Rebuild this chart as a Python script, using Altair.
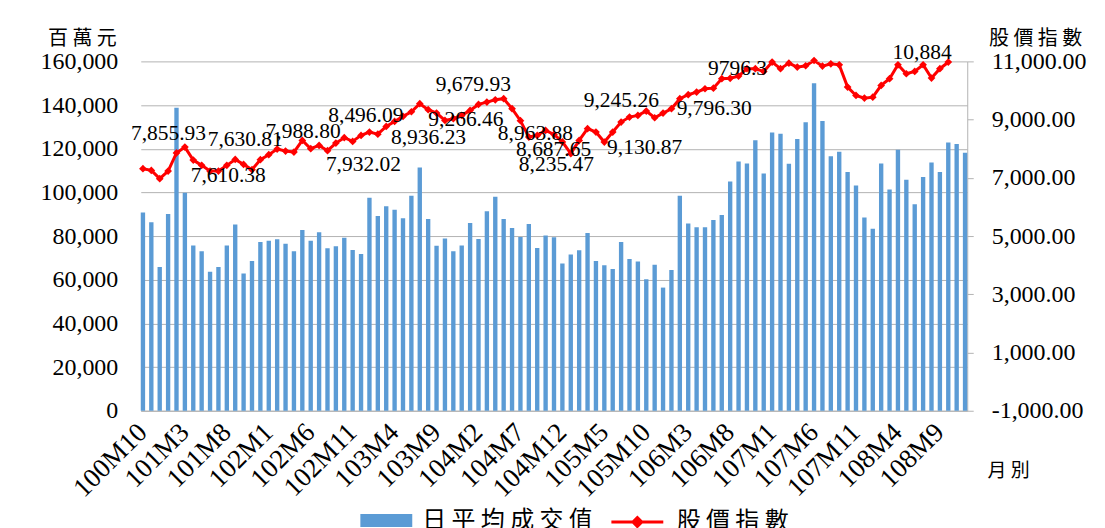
import altair as alt
import pandas as pd

# ---- categories ----
months = []
for y in range(100, 109):
    for m in range(1, 13):
        if (y == 100 and m < 10):
            continue
        months.append(f"{y}M{m}")
tick_months = months[::5]

# ---- series values ----
trade_values = [
    90800, 86300, 65800, 90100, 138800, 99800, 75700, 73000, 63600, 65800,
    75700, 85300, 62900, 68600, 77300, 77900, 78500, 76500, 73000, 82800,
    77900, 81700, 74400, 75300, 79200, 73600, 71800, 97500, 89200, 93700,
    92100, 88200, 98500, 111400, 87800, 75600, 78900, 73000, 75700, 86000,
    78600, 91400, 98000, 87800, 83700, 79600, 85500, 74500, 80300, 79400,
    67400, 71500, 73500, 81400, 68600, 66600, 64900, 77300, 69500, 68300,
    60200, 66900, 56400, 64500, 98500, 85800, 84000, 84000, 87300, 89600,
    105000, 114100, 113200, 123900, 108700, 127400, 126800, 113100, 124400, 132100,
    150000, 132700, 116600, 118600, 109300, 103200, 88500, 83400, 113200, 101300,
    119500, 105800, 94600, 107000, 113700, 109300, 122800, 122200, 118100,
]
index_values = [
    7315, 7256, 6972, 7233, 7856, 8056, 7610, 7428, 7233, 7233,
    7428, 7631, 7462, 7280, 7623, 7795, 7989, 7919, 7885, 8286,
    8000, 8114, 7932, 8194, 8380, 8252, 8458, 8572, 8500, 8767,
    8936, 9110, 9270, 9546, 9340, 9224, 8970, 9030, 9145, 9316,
    9522, 9601, 9680, 9718, 9374, 8964, 8400, 8458, 8630, 8492,
    8235, 7830, 8286, 8688, 8572, 8229, 8572, 8915, 9087, 9145,
    9293, 9064, 9224, 9374, 9718, 9855, 9945, 10060, 10080, 10405,
    10420, 10495, 10748, 10748, 10655, 10975, 10748, 10940, 10803, 10850,
    11030, 10837, 10918, 10880, 10116, 9830, 9738, 9772, 10175, 10405,
    10883, 10575, 10655, 10884, 10425, 10748, 10975, 11400, 11900,
]

# ---- data labels ----
label_months = ["101M2", "101M4", "101M9", "102M2", "102M8", "103M2", "103M4",
                "103M10", "104M4", "104M7", "104M10", "104M12", "105M6",
                "105M10", "106M3", "106M9", "108M7"]
label_texts = ["7,855.93", "7,610.38", "7,630.81", "7,988.80", "7,932.02",
               "8,496.09", "8,936.23", "9,266.46", "9,679.93", "8,963.88",
               "8,687.65", "8,235.47", "9,130.87", "9,245.26", "9,796.30",
               "9796.3", "10,884"]
# label offsets (style): dx, dy in pixels
label_dx = [-8, 35, 10, 26, 36, -12, 34, 21, -22, 15, 8, -6, 32, -25, 26, -1, -1]
label_dy = [-19, 16, -19, -17, 14, -18, 17, 0, -15, 13, 20, 23, 16, -10, 14, -7, -12]

BAR_NAME = "日 平 均 成 交 值"
LINE_NAME = "股 價 指 數"

df = pd.DataFrame({
    "month": months,
    "trade": trade_values,
    "idx": index_values,
    "s1": BAR_NAME,
    "s2": LINE_NAME,
})

SERIF = "Liberation Serif"
CJK = "Noto Sans CJK TC"
GRID = "#b3b3b3"

tick_list_expr = "[" + ",".join(f"'{m}'" for m in tick_months) + "]"

x_enc = alt.X(
    "month:N", sort=months,
    scale=alt.Scale(paddingInner=0.48, paddingOuter=0),
    axis=alt.Axis(
        labelExpr=f"indexof({tick_list_expr}, datum.value) >= 0 ? datum.value : ''",
        labelAngle=-45, labelAlign="right", labelBaseline="middle",
        labelFont=SERIF, labelFontSize=27,
        labelColor="black", labelOverlap=False, ticks=False, grid=False,
        domainColor=GRID, labelPadding=17,
        title="月 別", titleX=869, titleY=60, titleAngle=0, titleFont=CJK,
        titleFontSize=19, titleFontWeight="normal", titleAlign="center",
        titleBaseline="middle", titleColor="black",
    ),
)

y_left = alt.Y(
    "trade:Q",
    scale=alt.Scale(domain=[0, 160000]),
    axis=alt.Axis(
        values=list(range(0, 160001, 20000)), format=",.0f", labelFont=SERIF,
        labelFontSize=24, labelColor="black", labelPadding=23, ticks=False,
        domain=False, grid=True, gridColor=GRID, gridWidth=1,
        title="百 萬 元", titleX=-59, titleY=-23, titleAngle=0, titleFont=CJK,
        titleFontSize=20, titleFontWeight="normal", titleAlign="center",
        titleBaseline="middle", titleColor="black",
    ),
)

y_right = alt.Y(
    "idx:Q",
    scale=alt.Scale(domain=[-1000, 11000]),
    axis=alt.Axis(
        orient="right", values=[-1000, 1000, 3000, 5000, 7000, 9000, 11000],
        labelExpr="replace(format(datum.value, ',.2f'), '\u2212', '-')",
        labelFont=SERIF, labelFontSize=24, labelColor="black",
        labelPadding=18, ticks=True, tickSize=6, tickColor=GRID, domain=True,
        domainColor=GRID, grid=False,
        title="股 價 指 數", titleX=68, titleY=-23, titleAngle=0, titleFont=CJK,
        titleFontSize=20, titleFontWeight="normal", titleAlign="center",
        titleBaseline="middle", titleColor="black",
    ),
)

bars = alt.Chart(df).mark_bar().encode(
    x=x_enc,
    y=y_left,
    color=alt.Color(
        "s1:N", scale=alt.Scale(range=["#5b9bd5"]),
        legend=alt.Legend(
            orient="none", legendX=220, legendY=434, direction="horizontal",
            title=None, symbolType="M-1,-0.25L1,-0.25L1,0.25L-1,0.25Z",
            symbolSize=2704, symbolStrokeWidth=0, symbolOpacity=1,
            labelFont=CJK, labelFontSize=24, labelColor="black",
            labelOffset=10, labelLimit=400,
        ),
    ),
)

line = alt.Chart(df).mark_line(strokeWidth=3, clip=True).encode(
    x=x_enc,
    y=y_right,
    stroke=alt.Stroke(
        "s2:N", scale=alt.Scale(range=["#ff0000"]),
        legend=alt.Legend(
            orient="none", legendX=470, legendY=434, direction="horizontal",
            title=None,
            symbolType="M-1,0L1,0M0,-0.17L0.17,0L0,0.17L-0.17,0Z",
            symbolSize=2704, symbolStrokeWidth=3, symbolFillColor="#ff0000",
            symbolOpacity=1, labelFont=CJK, labelFontSize=24, labelColor="black",
            labelOffset=12, labelLimit=400,
        ),
    ),
)

points = alt.Chart(df).transform_filter("datum.idx <= 11050").mark_point(
    shape="diamond", filled=True, size=60, color="#ff0000", opacity=1
).encode(x=x_enc, y=y_right)

value_lookup = dict(zip(months, index_values))
texts = []
for m, t, dx, dy in zip(label_months, label_texts, label_dx, label_dy):
    ldf = pd.DataFrame({"month": [m], "idx": [value_lookup[m]], "label": [t]})
    texts.append(
        alt.Chart(ldf).mark_text(
            font=SERIF, fontSize=21.5, color="black", dx=dx, dy=dy,
            align="center", baseline="middle",
        ).encode(x=x_enc, y=y_right, text="label:N")
    )

right_layer = alt.layer(line, points, *texts)

chart = alt.layer(bars, right_layer).resolve_scale(
    y="independent", color="independent", stroke="independent"
).properties(
    width=828, height=350,
    autosize=alt.AutoSizeParams(type="none"),
    padding={"left": 133, "top": 53, "right": 130, "bottom": 117},
    background="white",
).configure_view(stroke=None)

chart.save("out.html", embed_options={"renderer": "svg", "actions": False})
